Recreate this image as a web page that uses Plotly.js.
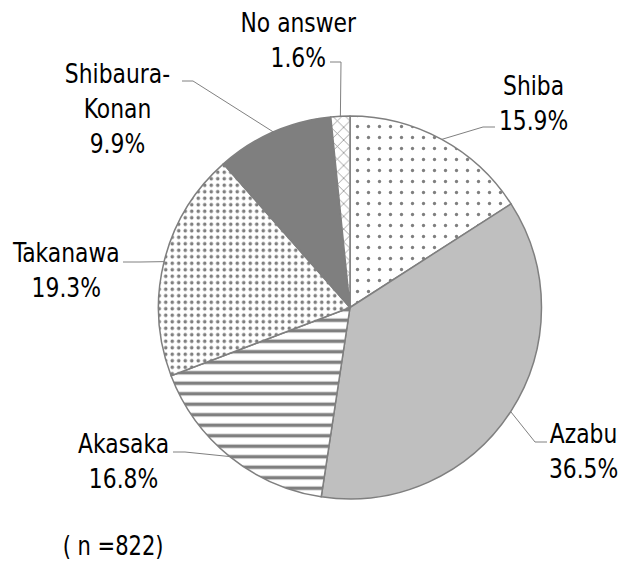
<!DOCTYPE html>
<html><head><meta charset="utf-8">
<script src="https://cdn.plot.ly/plotly-3.0.1.min.js"></script>
<style>html,body{margin:0;padding:0;background:#fff}</style>
</head><body>
<div id="chart" style="width:619px;height:566px"></div>
<script>
// ---- data ----
const categories = ["Shiba", "Azabu", "Akasaka", "Takanawa", "Shibaura-Konan", "No answer"];
const labelNames = ["Shiba", "Azabu", "Akasaka", "Takanawa", "Shibaura-<br>Konan", "No answer"];
const shares = [15.9, 36.5, 16.8, 19.3, 9.9, 1.6];
const sampleNote = "( n =822)";

// ---- style / layout constants ----
const W = 619, H = 566;
const CX = 350, CY = 307.5, R = 191.5;
const FONT = "Liberation Sans Narrow, DejaVu Sans Condensed, Arial Narrow, sans-serif";
const fills = ["#ffffff", "#bfbfbf", "#ffffff", "#ffffff", "#7f7f7f", "#ffffff"];
const patShapes = [".", "", "-", ".", "", "x"];
const patSize = [11, 8, 10.5, 6.5, 8, 9];
const patSolid = [0.07, 0.3, 0.33, 0.24, 0.3, 0.15];
// label text block centre and leader-line elbow/end, in px
const labelPlace = [
  {tx: 533, ty: 103, elbow: [483, 127], end: [495, 127]},
  {tx: 583, ty: 451, elbow: [535, 442], end: [547, 442]},
  {tx: 123, ty: 461, elbow: [185, 452], end: [173, 452]},
  {tx: 66,  ty: 270, elbow: [140, 262], end: [123, 262]},
  {tx: 117, ty: 108, elbow: [193, 81],  end: [182, 81]},
  {tx: 298, ty: 40,  elbow: [341, 62],  end: [330, 62]}
];

const px = x => x / W;
const py = y => 1 - y / H;

const total = shares.reduce((a, b) => a + b, 0);
let cum = 0;
const annotations = [];
const shapes = [];
shares.forEach((v, i) => {
  const mid = (cum + v / 2) / total * 2 * Math.PI;
  cum += v;
  const ex = CX + R * Math.sin(mid), ey = CY - R * Math.cos(mid);
  const p = labelPlace[i];
  shapes.push({
    type: "path", xref: "paper", yref: "paper",
    path: `M ${px(ex)} ${py(ey)} L ${px(p.elbow[0])} ${py(p.elbow[1])} L ${px(p.end[0])} ${py(p.end[1])}`,
    line: {color: "#808080", width: 1}
  });
  annotations.push({
    xref: "paper", yref: "paper", x: px(p.tx), y: py(p.ty),
    xanchor: "center", yanchor: "middle", align: "center", showarrow: false,
    text: labelNames[i] + "<br>" + v.toFixed(1) + "%",
    font: {family: FONT, size: 27, color: "#000"}
  });
});
annotations.push({
  xref: "paper", yref: "paper", x: px(113), y: py(546),
  xanchor: "center", yanchor: "middle", showarrow: false,
  text: sampleNote, font: {family: FONT, size: 26, color: "#000"}
});

const trace = {
  type: "pie",
  labels: categories,
  values: shares,
  sort: false,
  direction: "clockwise",
  rotation: 0,
  textinfo: "none",
  hoverinfo: "none",
  showlegend: false,
  domain: {x: [px(CX - R), px(CX + R)], y: [py(CY + R), py(CY - R)]},
  marker: {
    colors: fills,
    line: {color: "#7f7f7f", width: 1.5},
    pattern: {
      shape: patShapes, size: patSize, solidity: patSolid,
      fgcolor: ["#000", "#000", "#000", "#000", "#000", "#000"],
      bgcolor: fills, fillmode: "overlay"
    }
  }
};

Plotly.newPlot("chart", [trace], {
  width: W, height: H,
  margin: {l: 0, r: 0, t: 0, b: 0},
  paper_bgcolor: "#fff", plot_bgcolor: "#fff",
  showlegend: false,
  annotations: annotations,
  shapes: shapes
}, {displayModeBar: false, staticPlot: true}).then(gd => {
  // narrow the label glyphs to mimic the condensed Gothic face of the original
  gd.querySelectorAll(".annotation-text").forEach(t => {
    t.style.transformBox = "fill-box";
    t.style.transformOrigin = "center";
    t.style.transform = "scaleX(0.9)";
  });
});
</script>
</body></html>
